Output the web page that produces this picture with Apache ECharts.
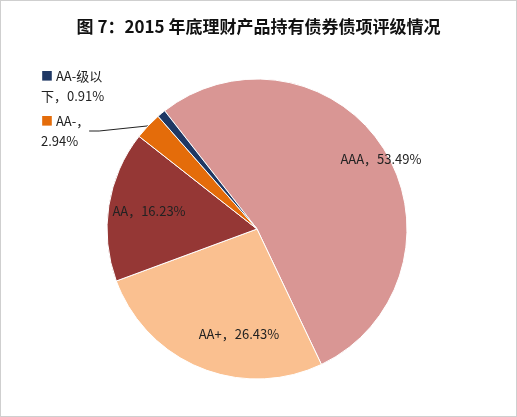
<!DOCTYPE html>
<html><head><meta charset="utf-8">
<script src="https://cdn.jsdelivr.net/npm/echarts@6/dist/echarts.min.js"></script>
<style>html,body{margin:0;padding:0;background:#fff}#c{width:517px;height:417px;box-sizing:border-box;border:1px solid #cfcfcf}</style>
</head><body><div id="c"></div>
<script>
var names = ['AAA', 'AA+', 'AA', 'AA-', 'AA-级以下'];
var values = [53.49, 26.43, 16.23, 2.94, 0.91];
var colors = ['#D99694', '#FAC090', '#953735', '#E46C0A', '#1F3864'];
var labelText = ['AAA，53.49%', 'AA+，26.43%', 'AA，16.23%', 'AA-，\n2.94%', 'AA-级以\n下，0.91%'];

var chart = echarts.init(document.getElementById('c'));
var font = '"Noto Sans CJK SC", sans-serif';
var data = names.map(function (n, i) {
    var d = { name: n, value: values[i], itemStyle: { color: colors[i] } };
    if (i >= 3) {
        d.label = { position: 'outside', color: '#222',
            formatter: '{sq|■} ' + labelText[i].replace('\n', '\n'),
            rich: { sq: { color: colors[i], fontSize: 12 } } };
        d.labelLine = { show: i == 3, lineStyle: { color: '#222' } };
    } else {
        d.label = { position: 'inside', color: '#222',
            formatter: labelText[i] };
    }
    return d;
});

chart.setOption({
    title: {
        text: '图 7：2015 年底理财产品持有债券债项评级情况',
        left: 'center', top: 12,
        textStyle: { fontFamily: font, fontSize: 17, fontWeight: 'bold', color: '#111' }
    },
    series: [{
        type: 'pie',
        center: [256, 228],
        radius: 150,
        startAngle: 128,
        clockwise: true,
        label: { fontFamily: font, fontSize: 13, lineHeight: 20 },
        labelLine: { length: 6, length2: 10 },
        labelLayout: function (p) {
            if (p.dataIndex == 3) return { x: 40, y: 130, align: 'left' };
            if (p.dataIndex == 4) return { x: 40, y: 85, align: 'left' };
            if (p.dataIndex == 0) return { x: 380, y: 158 };
            if (p.dataIndex == 1) return { x: 238, y: 333 };
            if (p.dataIndex == 2) return { x: 148, y: 210 };
        },
        itemStyle: { borderColor: '#fff', borderWidth: 1 },
        data: data
    }]
});
</script></body></html>
